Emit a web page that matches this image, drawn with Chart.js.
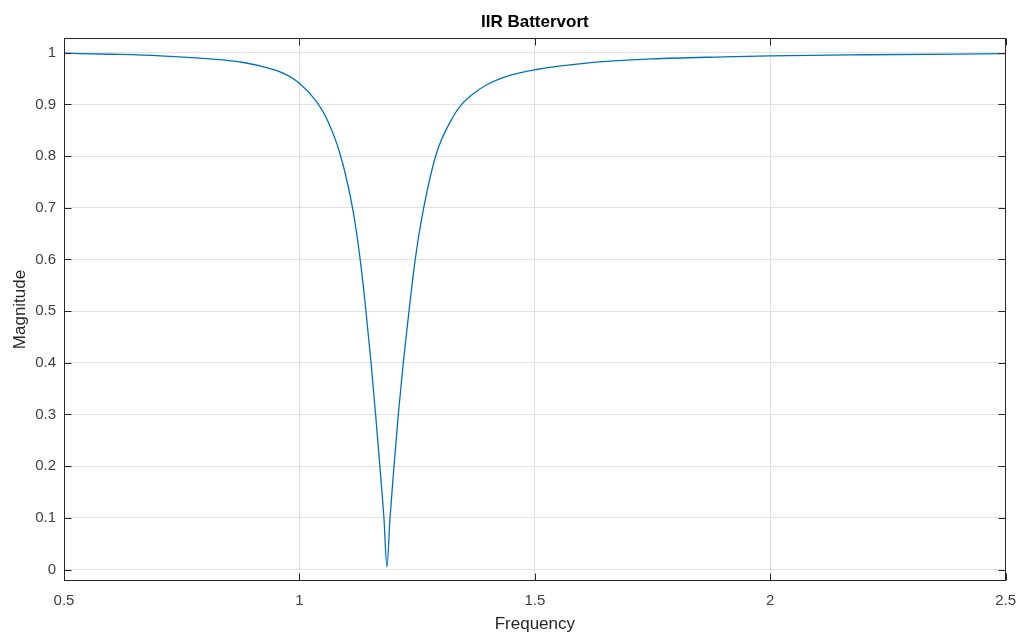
<!DOCTYPE html>
<html>
<head>
<meta charset="utf-8">
<title>IIR Battervort</title>
<script src="https://cdn.jsdelivr.net/npm/chart.js@4/dist/chart.umd.min.js"></script>
<style>
  html, body { margin: 0; padding: 0; background: #ffffff; }
  #wrap { width: 1019px; height: 637px; }
</style>
</head>
<body>
<div id="wrap"><canvas id="chart" width="1019" height="637"></canvas></div>
<script>
// Magnitude response of the band-stop filter
const frequency = [
  0.5, 0.6, 0.704, 0.81, 0.881, 0.93, 0.973, 1.0, 1.0367, 1.058,
  1.086, 1.1127, 1.129, 1.1413, 1.1521, 1.1618, 1.1708, 1.1795, 1.1858,
  1.1924, 1.2009, 1.21, 1.2206, 1.2327, 1.246, 1.264, 1.291, 1.327, 1.3447,
  1.37, 1.398, 1.45, 1.5, 1.61, 1.75, 1.9, 2.0, 2.2, 2.5
];
const magnitude = [
  0.999, 0.997, 0.994, 0.988, 0.981, 0.971, 0.957, 0.941, 0.905, 0.872,
  0.805, 0.70, 0.60, 0.50, 0.40, 0.30, 0.20, 0.10, 0.005,
  0.10, 0.20, 0.30, 0.40, 0.50, 0.60, 0.70, 0.805, 0.877, 0.90,
  0.921, 0.938, 0.957, 0.967, 0.980, 0.988, 0.992, 0.994, 0.996, 0.998
];
const xTicks = [0.5, 1, 1.5, 2, 2.5];
const yTicks = [0, 0.1, 0.2, 0.3, 0.4, 0.5, 0.6, 0.7, 0.8, 0.9, 1];

const FONT = '"Liberation Sans", Arial, Helvetica, sans-serif';
const AXIS_COLOR = '#262626';
const TEXT_COLOR = '#404040';
const GRID_COLOR = '#e2e2e2';

const fmt = v => String(+Number(v).toFixed(2));

// Box around the axes with inward-pointing tick marks on all four sides
const axesBox = {
  id: 'axesBox',
  afterDraw(chart) {
    const { ctx, chartArea: a, scales } = chart;
    const L = Math.round(a.left) + 0.5, R = Math.round(a.right) - 0.5;
    const T = Math.round(a.top) + 0.5, B = Math.round(a.bottom) - 0.5;
    const len = 7;
    ctx.save();
    ctx.strokeStyle = AXIS_COLOR;
    ctx.lineWidth = 1;
    ctx.strokeRect(L, T, R - L, B - T);
    ctx.beginPath();
    xTicks.forEach(v => {
      const px = Math.round(scales.x.getPixelForValue(v)) + 0.5;
      ctx.moveTo(px, B); ctx.lineTo(px, B - len);
      ctx.moveTo(px, T); ctx.lineTo(px, T + len);
    });
    yTicks.forEach(v => {
      const py = Math.round(scales.y.getPixelForValue(v)) + 0.5;
      ctx.moveTo(L, py); ctx.lineTo(L + len, py);
      ctx.moveTo(R, py); ctx.lineTo(R - len, py);
    });
    ctx.stroke();
    ctx.restore();
  }
};

new Chart(document.getElementById('chart'), {
  type: 'line',
  data: {
    datasets: [{
      data: frequency.map((f, i) => ({ x: f, y: magnitude[i] })),
      borderColor: '#0072BD',
      borderWidth: 1.3,
      pointRadius: 0,
      fill: false,
      cubicInterpolationMode: 'monotone'
    }]
  },
  options: {
    responsive: false,
    animation: false,
    devicePixelRatio: 1,
    layout: { padding: { left: 0, right: 13.3, top: 0, bottom: 0 } },
    plugins: {
      legend: { display: false },
      tooltip: { enabled: false },
      title: {
        display: true,
        text: 'IIR Battervort',
        fullSize: false,
        color: '#000000',
        font: { family: FONT, size: 17, weight: 'bold', lineHeight: 1.2 },
        padding: { top: 12.5, bottom: 4.8 }
      }
    },
    scales: {
      x: {
        type: 'linear',
        min: 0.5,
        max: 2.5,
        afterBuildTicks: s => { s.ticks = xTicks.map(v => ({ value: v })); },
        afterFit: s => {
          s.height = 637 - 581.3;
          s.paddingLeft = 0;
          s.paddingRight = 0;
        },
        ticks: {
          callback: fmt,
          color: TEXT_COLOR,
          font: { family: FONT, size: 15 },
          padding: 11,
          maxRotation: 0,
          autoSkip: false
        },
        grid: { color: GRID_COLOR, lineWidth: 1, drawTicks: false },
        border: { display: false },
        title: {
          display: true,
          text: 'Frequency',
          color: AXIS_COLOR,
          font: { family: FONT, size: 17 },
          padding: { top: 0, bottom: 2 }
        }
      },
      y: {
        type: 'linear',
        min: -0.0228,
        max: 1.029,
        afterBuildTicks: s => { s.ticks = yTicks.map(v => ({ value: v })); },
        afterFit: s => {
          s.width = 64;
          s.paddingTop = 0;
          s.paddingBottom = 0;
        },
        ticks: {
          callback: fmt,
          color: TEXT_COLOR,
          font: { family: FONT, size: 15 },
          padding: 8,
          autoSkip: false
        },
        grid: { color: GRID_COLOR, lineWidth: 1, drawTicks: false },
        border: { display: false },
        title: {
          display: true,
          text: 'Magnitude',
          color: AXIS_COLOR,
          font: { family: FONT, size: 17 },
          padding: { top: 10, bottom: 0 }
        }
      }
    }
  },
  plugins: [axesBox]
});
</script>
</body>
</html>
